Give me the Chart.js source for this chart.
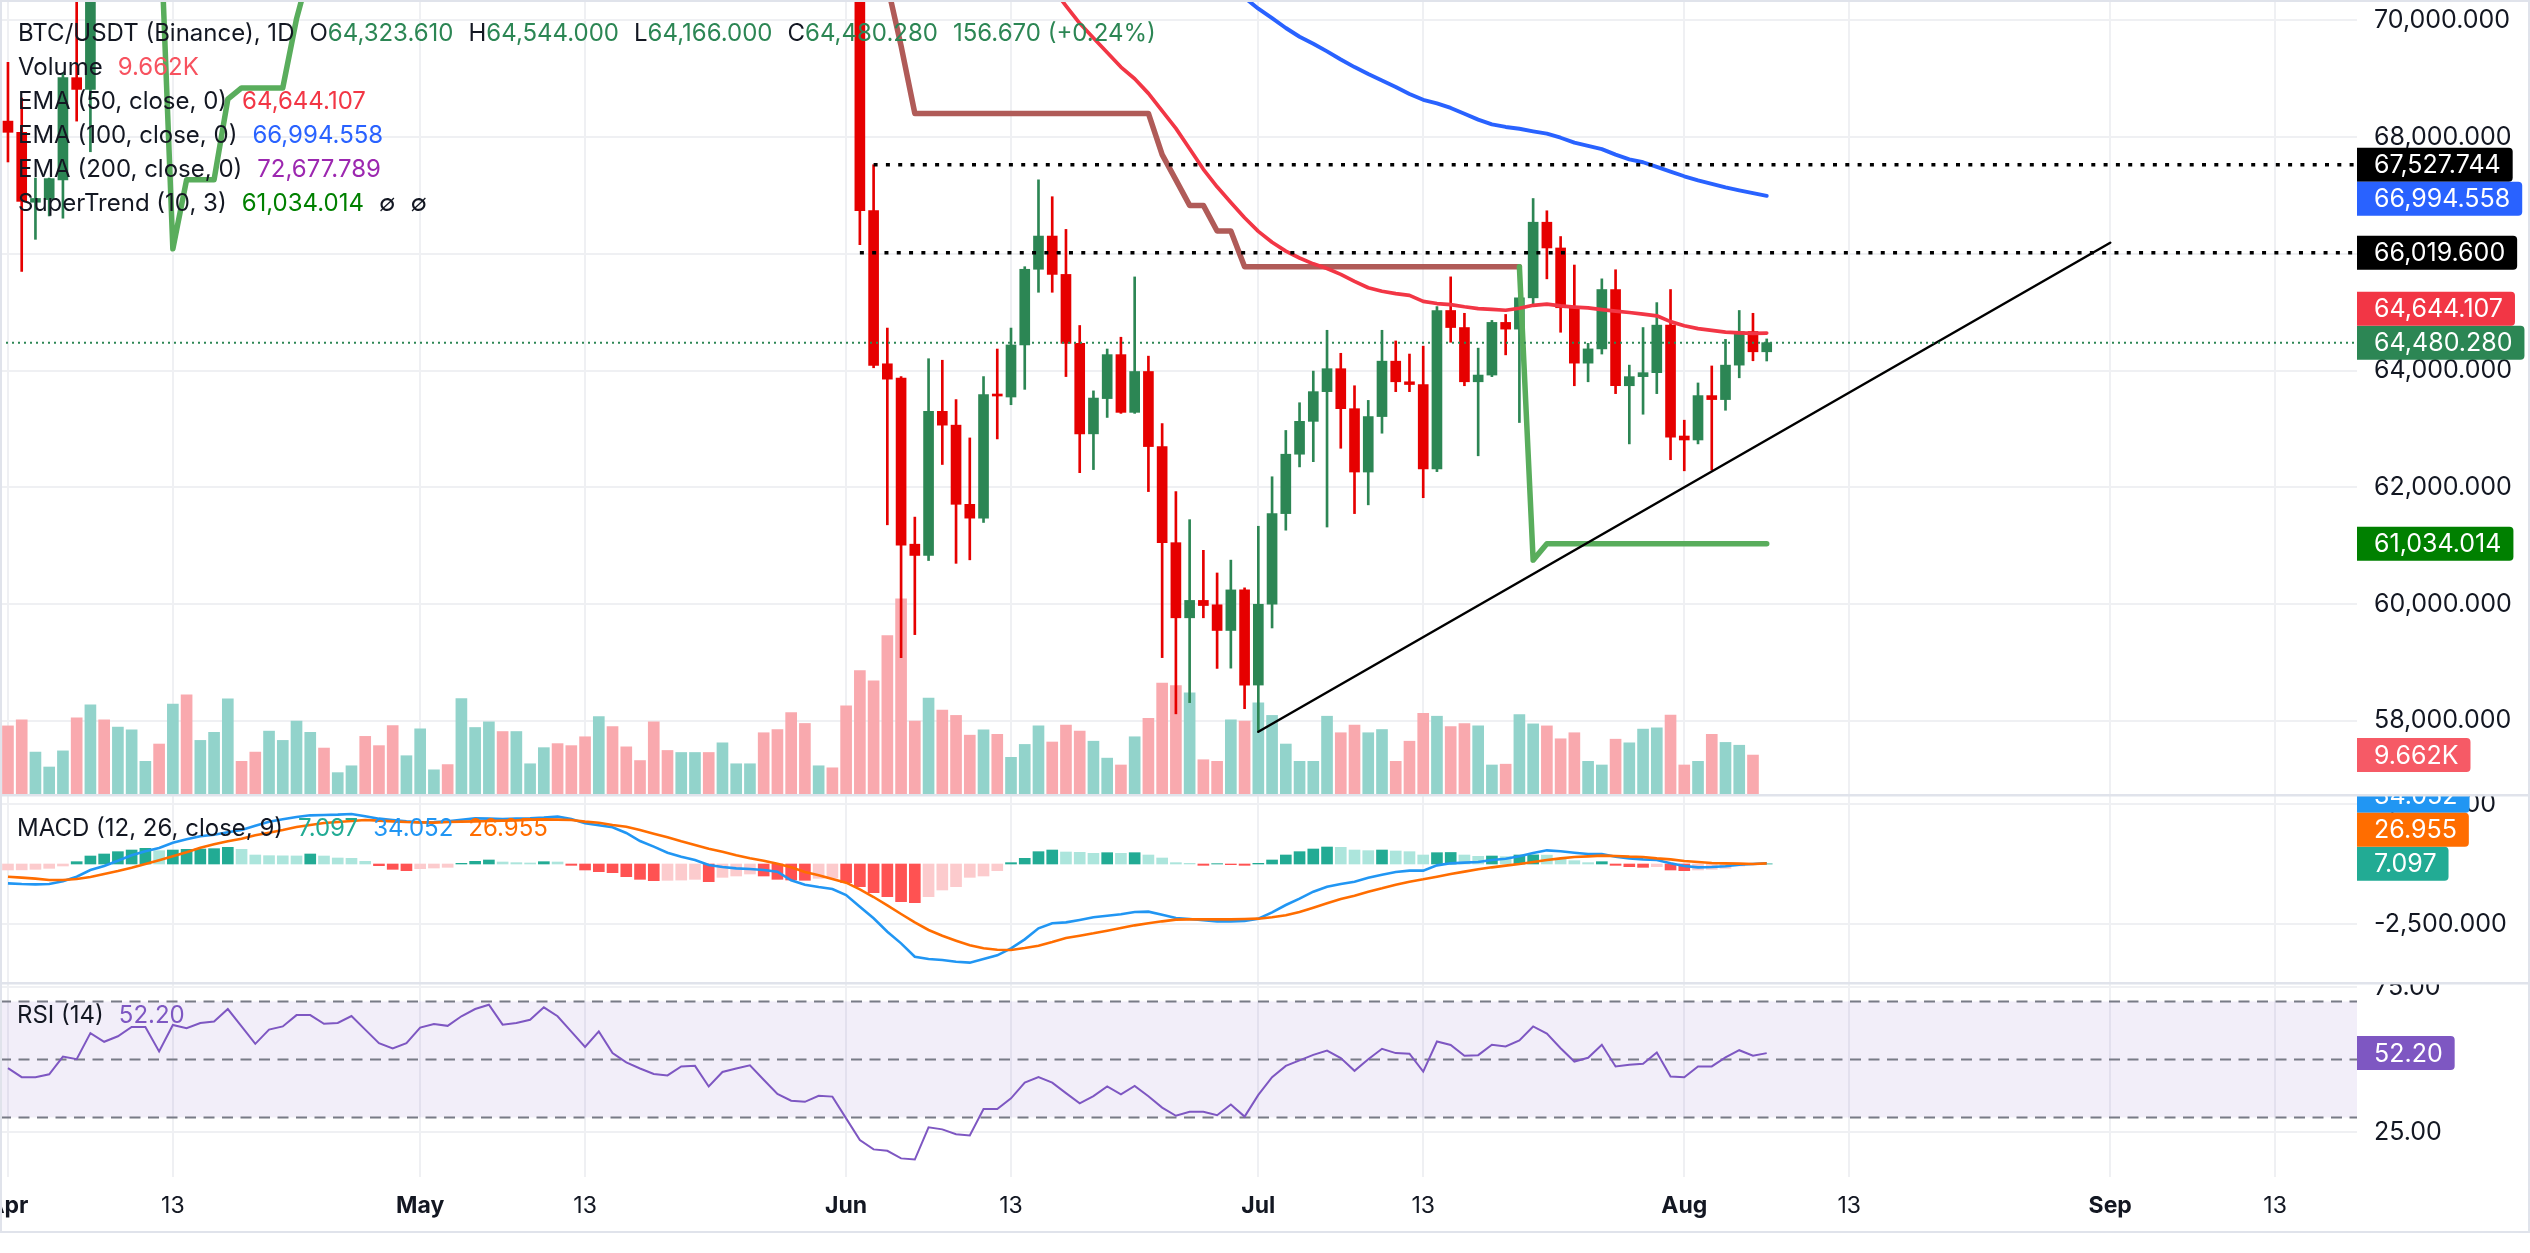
<!DOCTYPE html>
<html>
<head>
<meta charset="utf-8">
<title>BTC/USDT (Binance), 1D</title>
<script src="https://cdn.jsdelivr.net/npm/chart.js@4.4.1/dist/chart.umd.min.js"></script>
<style>
  html, body { margin:0; padding:0; background:#ffffff; }
  body { width:2530px; height:1253px; position:relative; overflow:hidden; font-family: Inter, "Noto Sans", sans-serif; color:#131722; }
  canvas { position:absolute; left:0; display:block; }
  .frame { position:absolute; left:0; top:0; width:2530px; height:1233px; box-sizing:border-box; border:2px solid #E0E3EB; pointer-events:none; z-index:5; }
  .legend { position:absolute; left:18px; font-size:24px; line-height:34px; white-space:nowrap; z-index:6; }
  .row { display:flex; align-items:center; height:34px; gap:15px; }
</style>
</head>
<body>
<canvas id="cMain" width="2530" height="794" style="top:0px"></canvas>
<canvas id="cMacd" width="2530" height="188" style="top:794px"></canvas>
<canvas id="cRsi" width="2530" height="271" style="top:982px"></canvas>
<div class="frame"></div>
<div class="legend" id="legMain" style="top:16px"></div>
<div class="legend" id="legMacd" style="top:811px; left:17px"></div>
<div class="legend" id="legRsi" style="top:998px; left:17px"></div>
<script>
// ===================== DATA =====================
// day index 0 = Apr 1, 128 = Aug 7
const xTickDays   = [0, 12, 30, 42, 61, 73, 91, 103, 122, 134, 153, 165];
const xTickLabels = ['Apr', '13', 'May', '13', 'Jun', '13', 'Jul', '13', 'Aug', '13', 'Sep', '13'];
const priceTicks  = [58000, 60000, 62000, 64000, 66000, 68000, 70000];
const macdTicks   = [2500, -2500];
const rsiTicks    = [75, 25];
const rsiLevels   = [70, 50, 30];

// candles visible in the price pane (others are above the top edge)
const candleDay = [0,1,2,3,4,5,6,62,63,64,65,66,67,68,69,70,71,72,73,74,75,76,77,78,79,80,81,82,83,84,85,86,87,88,89,90,91,92,93,94,95,96,97,98,99,100,101,102,103,104,105,106,107,108,109,110,111,112,113,114,115,116,117,118,119,120,121,122,123,124,125,126,127,128];
const candleOpen = [68275,68083,66885,66930,67269,69019,68818,71000,66744,64118,63873,61028,60835,63304,63067,61711,61474,63592,63549,64441,65737,66306,65649,64468,62918,63522,64275,63286,63986,62700,61054,59767,60065,59990,59550,60245,58615,59999,61552,62569,63132,63641,64034,63349,62264,63214,64163,63810,63763,62319,65031,64739,63810,63925,64827,64712,65248,66543,66102,65078,64129,64373,65390,63742,63898,63966,64780,62881,62813,63573,63505,64095,64671,64323.61];
const candleHigh = [69282,68669,67300,67300,69100,70700,71300,71300,67527.744,64730,63900,61492,64205,64179,63505,62848,63899,64371,64730,65781,67269,66980,66420,64774,63654,64371,64573,65606,64249,63094,61929,61448,60923,60535,60755,60280,61335,62183,62976,63451,63993,64692,64298,63742,63491,64692,64509,64285,64420,65098,65607,64983,64386,64861,64963,65797,66949,66739,66298,65810,64468,65573,65729,64095,64739,65166,65390,63152,63790,64081,64536,65031,64983,64544];
const candleLow = [67575,65700,66250,66650,66612,68275,67750,66160,64050,61360,59085,59479,60748,62393,60700,60760,61400,62831,63417,63680,65343,65343,63899,62253,62306,63199,63269,63269,61929,59085,58122,58314,59767,58900,58905,58210,57815,59593,61268,62352,62441,61322,62671,61552,61702,62929,63641,63641,61824,62271,64488,63742,62542,63898,64271,63112,65146,65573,64658,63742,63810,64285,63607,62746,63254,63607,62475,62285,62746,62298,63322,63878,64170,64166];
const candleClose = [68083,66900,66950,67290,69019,68818,70900,66740,64091,63855,61010,60835,63304,63067,61711,61474,63592,63566,64441,65737,66306,65649,64468,62918,63531,64275,63286,63986,62700,61054,59767,60065,59977,59550,60245,58615,59999,61552,62569,63132,63641,64034,63349,62264,63214,64163,63810,63763,62319,65031,64739,63810,63925,64827,64712,65248,66543,66102,65078,64129,64373,65390,63742,63898,63966,64780,62861,62813,63573,63505,64095,64671,64323.61,64480.28];

// volume (thousands BTC), one per day; last day has no bar drawn
const volume = [16.9,18.4,10.4,6.7,10.7,18.9,22.1,18.4,16.6,15.9,
  8.1,12.4,22.3,24.6,13.3,15.3,23.6,8.1,10.4,15.6,
  13.3,18.1,15.3,11.4,5.3,7.0,14.3,12.0,17.0,9.5,
  16.2,6.0,7.3,23.7,16.5,17.9,15.5,15.5,7.5,11.5,
  12.5,12.0,14.2,19.2,16.7,11.7,8.3,17.9,10.8,10.3,
  10.3,10.3,12.7,7.5,7.5,15.2,16.0,20.2,17.5,7.0,
  6.5,21.9,30.6,28.1,39.3,48.4,18.1,23.8,20.8,19.5,
  14.6,15.9,14.8,9.1,12.3,16.9,12.9,17.1,15.6,13.1,
  8.9,7.2,14.2,18.8,27.5,26.9,25.1,8.5,8.1,18.4,
  18.1,22.6,19.5,12.4,8.1,8.1,19.3,15.2,17.1,15.2,
  16.0,8.1,13.1,20.0,19.3,16.7,17.5,16.9,7.2,7.4,
  19.7,17.4,16.9,13.7,15.2,8.1,7.2,13.6,12.7,16.1,
  16.4,19.6,7.2,8.1,14.8,12.8,12.1,9.662,null];
const volumeUp = [0,0,1,1,1,0,1,0,1,1, 1,0,1,0,1,1,1,0,0,1, 1,1,1,0,1,1,0,0,0,1, 1,1,0,1,1,1,0,1,1,1,
  0,0,0,1,0,0,0,0,0,1, 1,0,1,1,1,0,0,0,0,1, 0,0,0,0,0,0,0,1,0,0, 0,1,0,1,1,1,0,0,0,1,
  1,0,1,0,0,0,1,0,0,1, 0,1,1,1,1,1,1,0,0,1, 1,0,0,0,1,0,0,1,1,0, 1,1,0,0,0,1,1,0,1,1,
  1,0,0,1,0,1,1,0,1];

const ema50Start = 74;
const ema50 = [71250,70900,70560,70250,69950,69700,69450,69200,69000,68750,68450,68150,67800,67450,67150,66880,66620,66387,66200,66048,65930,65830,65750,65650,65530,65420,65360,65320,65290,65187,65150,65132,65095,65064,65050,65035,65070,65120,65140,65110,65090,65075,65045,65020,64997,64970,64940,64840,64770,64720,64690,64660,64648,64640,64644.107];
const ema100Start = 88;
const ema100 = [70720,70560,70390,70201,70040,69870,69720,69600,69470,69330,69200,69080,68970,68860,68740,68640,68580,68500,68400,68300,68220,68175,68144,68100,68060,67990,67905,67850,67794,67700,67620,67570,67490,67410,67330,67260,67200,67140,67090,67040,66994.558];
const ema200Last = 72677.789;

const stUpStartA = 11;
const stUpA = [72200,66087,67269,67269,67269,68650,68844,68844,68844,68844,70026,70900,71300];
const stUpStartB = 110;
const stUpB = [65781,60755,61034.014,61034.014,61034.014,61034.014,61034.014,61034.014,61034.014,61034.014,61034.014,61034.014,61034.014,61034.014,61034.014,61034.014,61034.014,61034.014,61034.014];
const stDownStart = 63;
const stDown = [71700,70607,69565,68407,68407,68407,68407,68407,68407,68407,68407,68407,68407,68407,68407,68407,68407,68407,68407,68407,68407,
  67700,67269,66831,66831,66393,66393,65781,65781,65781,65781,65781,65781,65781,65781,65781,65781,65781,65781,65781,65781,65781,65781,65781,65781,65781,65781,65781];

const levelDays   = [63, 62];
const levelPrices = [67527.744, 66019.6];
const trendDays   = [91, 153];
const trendPrices = [57815, 66192];

const macdHist = [-250,-245,-222,-181,-83,97,333,417,514,583,653,556,583,611,625,639,694,611,375,347,340,335,417,333,250,236,111,-69,-222,-278,-194,-167,-139,28,111,167,83,56,42,97,83,-56,-250,-320,-361,-528,-639,-694,-680,-670,-639,-736,-556,-500,-417,-500,-639,-667,-680,-597,-590,-778,-944,-1194,-1361,-1569,-1611,-1361,-1083,-944,-556,-500,-278,56,236,514,583,500,486,444,472,444,472,375,250,56,28,-56,14,-28,-56,28,167,375,514,625,708,694,583,556,583,542,514,375,472,480,375,320,333,306,375,380,370,194,139,56,97,-56,-111,-139,-111,-250,-278,-250,-222,-181,-83,-30,7.097];
const macdLine = [-806,-833,-847,-833,-722,-528,-250,-83,139,361,528,667,889,1028,1153,1222,1320,1417,1597,1764,1861,1958,2028,2042,2056,2084,1986,1889,1833,1778,1736,1750,1778,1847,1903,1889,1875,1889,1903,1931,1972,1875,1695,1611,1528,1292,958,722,472,306,167,-42,-125,-181,-208,-250,-319,-681,-861,-958,-1042,-1292,-1778,-2264,-2820,-3306,-3861,-3959,-4000,-4070,-4111,-3959,-3806,-3514,-3139,-2681,-2472,-2431,-2333,-2222,-2153,-2097,-2000,-1986,-2111,-2250,-2292,-2347,-2389,-2389,-2375,-2278,-2014,-1708,-1444,-1153,-944,-833,-736,-569,-444,-333,-278,-278,-56,28,56,83,167,222,319,458,569,528,472,417,417,306,236,194,167,28,-83,-139,-125,-97,-28,0,34.052];
const macdSignal = [-528,-569,-611,-667,-667,-625,-542,-417,-292,-153,0,153,319,486,681,819,944,1056,1194,1306,1417,1542,1625,1708,1750,1792,1833,1806,1778,1750,1736,1722,1750,1764,1778,1792,1806,1819,1847,1861,1847,1833,1764,1722,1625,1556,1417,1264,1111,944,792,639,514,361,236,139,14,-139,-333,-472,-625,-778,-1056,-1375,-1722,-2083,-2431,-2750,-2986,-3194,-3389,-3514,-3570,-3584,-3500,-3403,-3250,-3083,-2986,-2889,-2778,-2667,-2556,-2472,-2389,-2319,-2306,-2306,-2306,-2306,-2292,-2278,-2222,-2139,-2000,-1819,-1639,-1458,-1319,-1153,-1014,-861,-736,-639,-528,-417,-319,-222,-139,-69,0,83,167,236,292,319,347,333,306,292,236,194,125,83,42,28,14,0,26.955];
const rsi = [47.0,43.9,43.9,44.9,51.0,50.1,59.1,56.1,58.0,61.2,61.2,52.8,61.9,60.8,62.6,63.1,67.4,61.4,55.4,60.3,61.4,65.3,65.3,62.3,62.6,65.0,60.3,55.6,53.8,55.6,61.0,62.2,61.6,64.9,67.4,68.9,62.0,62.6,63.7,68.0,64.9,59.6,54.3,59.7,52.2,49.0,46.9,45.0,44.5,47.6,47.8,40.7,45.7,46.9,48.0,43.0,38.1,35.8,35.4,37.5,37.2,29.7,22.2,19.0,18.5,15.9,15.5,26.6,25.9,24.2,23.8,32.9,32.9,36.6,42.0,43.9,42.0,38.4,34.9,37.4,40.7,38.0,40.9,37.3,33.4,30.6,32.0,32.0,30.8,34.5,30.3,37.8,43.9,47.8,49.7,51.6,53.1,50.5,46.1,50.1,53.7,52.2,52.0,45.8,56.2,55.0,51.3,51.5,55.1,54.5,56.6,61.4,58.9,53.9,49.3,50.6,55.1,47.6,48.2,48.5,52.4,44.1,43.9,47.6,47.6,50.7,53.2,51.3,52.2];

// ===================== VIEW =====================
const FONT = 'Inter';
const TXT = '#131722';
const GRID = '#EFF0F3';
const UP = '#2C8654', DN = '#E60000';
const AXIS_W = 173;
const X_MIN = -0.58, X_MAX = 170.96;
const PRICE_MIN = 56749, PRICE_MAX = 70349.4;
const VOL_MAX = 197;
const MACD_MIN = -4916.7, MACD_MAX = 2916.7;
const RSI_MIN = 9.48, RSI_MAX = 76.72;

Chart.defaults.font.family = FONT;
Chart.defaults.animation = false;

const fmt = (v, d) => v.toLocaleString('en-US', {minimumFractionDigits: d, maximumFractionDigits: d});
const series = (start, arr) => arr.map((v, k) => ({x: start + k, y: v}));
const isMonth = s => isNaN(Number(s));

function xScale(showLabels) {
  return {
    type: 'linear', min: X_MIN, max: X_MAX, offset: false,
    afterBuildTicks: s => { s.ticks = xTickDays.map(v => ({value: v})); },
    afterFit: s => { s.paddingLeft = 0; s.paddingRight = 0; if (showLabels) s.height = 76; },
    ticks: {
      display: showLabels, autoSkip: false, maxRotation: 0, padding: 15, color: TXT,
      font: ctx => ({family: FONT, size: 23, weight: isMonth(xTickLabels[ctx.index]) ? '700' : '400'}),
      callback: (v, i) => xTickLabels[i]
    },
    grid: {color: GRID, lineWidth: 2, drawTicks: false, offset: false},
    border: {display: false}
  };
}
function yScale(min, max, ticks, fmtFn) {
  return {
    type: 'linear', position: 'right', min, max, beginAtZero: false,
    afterBuildTicks: s => { s.ticks = ticks.map(v => ({value: v})); },
    afterFit: s => { s.width = AXIS_W; s.paddingTop = 0; s.paddingBottom = 0; },
    ticks: {padding: 17, color: TXT, font: {family: FONT, size: 25}, callback: fmtFn},
    grid: {color: GRID, lineWidth: 2, drawTicks: false},
    border: {display: false}
  };
}

function boxPath(ctx, x, y, w, h, r) {
  ctx.beginPath();
  ctx.moveTo(x, y);
  ctx.lineTo(x + w - r, y);
  ctx.arcTo(x + w, y, x + w, y + r, r);
  ctx.lineTo(x + w, y + h - r);
  ctx.arcTo(x + w, y + h, x + w - r, y + h, r);
  ctx.lineTo(x, y + h);
  ctx.closePath();
}
function drawAxisBoxes(chart, items, anchorIdx) {
  const ctx = chart.ctx, H = 34, left = chart.chartArea.right;
  const anchor = items[anchorIdx];
  const above = items.filter((it, i) => i !== anchorIdx && it.y <= anchor.y).sort((a, b) => a.y - b.y);
  const below = items.filter((it, i) => i !== anchorIdx && it.y > anchor.y).sort((a, b) => a.y - b.y);
  for (let i = 1; i < above.length; i++) above[i].y = Math.max(above[i].y, above[i - 1].y + H);
  let lim = anchor.y;
  for (let i = above.length - 1; i >= 0; i--) { above[i].y = Math.min(above[i].y, lim - H); lim = above[i].y; }
  lim = anchor.y;
  for (const it of below) { it.y = Math.max(it.y, lim + H); lim = it.y; }
  ctx.save();
  ctx.font = '25px ' + FONT;
  ctx.textAlign = 'left';
  ctx.textBaseline = 'middle';
  for (const it of items) {
    const w = 17 + ctx.measureText(it.text).width + 12;
    ctx.fillStyle = it.bg;
    boxPath(ctx, left, it.y - H / 2, w, H, 4);
    ctx.fill();
    ctx.fillStyle = '#ffffff';
    ctx.fillText(it.text, left + 17, it.y + 1);
  }
  ctx.restore();
}
function separator(chart) {
  const ctx = chart.ctx;
  ctx.save();
  ctx.fillStyle = '#E0E3EB';
  ctx.fillRect(0, 0, chart.width, 2.5);
  ctx.restore();
}

const lastVol = volume.filter(v => v !== null).slice(-1)[0];
const lastClose = candleClose[candleClose.length - 1];

// ---------- price pane ----------
const candleColors = candleOpen.map((o, k) => candleClose[k] >= o ? UP : DN);
const lineDs = (data, color, width, order, extra) => Object.assign({
  type: 'line', data, borderColor: color, borderWidth: width, pointRadius: 0, tension: 0,
  fill: false, order, borderCapStyle: 'round', borderJoinStyle: 'round', yAxisID: 'y'
}, extra || {});

const priceBoxes = {
  id: 'priceBoxes',
  afterDraw(chart) {
    const y = chart.scales.y, yv = chart.scales.yv;
    const items = [
      {y: y.getPixelForValue(lastClose), text: fmt(lastClose, 3), bg: UP},
      {y: y.getPixelForValue(levelPrices[0]), text: fmt(levelPrices[0], 3), bg: '#000000'},
      {y: y.getPixelForValue(ema100[ema100.length - 1]), text: fmt(ema100[ema100.length - 1], 3), bg: '#2962FF'},
      {y: y.getPixelForValue(levelPrices[1]), text: fmt(levelPrices[1], 3), bg: '#000000'},
      {y: y.getPixelForValue(ema50[ema50.length - 1]), text: fmt(ema50[ema50.length - 1], 3), bg: '#F23645'},
      {y: y.getPixelForValue(stUpB[stUpB.length - 1]), text: fmt(stUpB[stUpB.length - 1], 3), bg: '#008000'},
      {y: yv.getPixelForValue(lastVol), text: lastVol.toFixed(3) + 'K', bg: '#F65A66'}
    ];
    drawAxisBoxes(chart, items, 0);
  }
};

new Chart(document.getElementById('cMain'), {
  type: 'bar',
  data: {
    datasets: [
      lineDs([{x: X_MIN, y: lastClose}, {x: X_MAX, y: lastClose}], UP, 2, 1, {borderDash: [2, 4], borderCapStyle: 'butt'}),
      lineDs([{x: levelDays[0], y: levelPrices[0]}, {x: X_MAX, y: levelPrices[0]}], '#000000', 3.5, 2, {borderDash: [4, 8.3], borderCapStyle: 'butt'}),
      lineDs([{x: levelDays[1], y: levelPrices[1]}, {x: X_MAX, y: levelPrices[1]}], '#000000', 3.5, 2, {borderDash: [4, 8.3], borderCapStyle: 'butt'}),
      lineDs(trendDays.map((d, k) => ({x: d, y: trendPrices[k]})), '#000000', 2.5, 3),
      lineDs(series(ema50Start, ema50), '#F23645', 3.7, 4),
      lineDs(series(ema100Start, ema100), '#2962FF', 3.9, 5),
      lineDs(series(stUpStartA, stUpA), '#59AD5C', 5.5, 6),
      lineDs(series(stUpStartB, stUpB), '#59AD5C', 5.5, 6),
      lineDs(series(stDownStart, stDown), '#B05B58', 5.5, 6),
      {type: 'bar', data: candleDay.map((d, k) => ({x: d, y: [candleOpen[k], candleClose[k]]})),
       backgroundColor: candleColors, barThickness: 10, grouped: false, minBarLength: 2, borderWidth: 0, order: 7, yAxisID: 'y'},
      {type: 'bar', data: candleDay.map((d, k) => ({x: d, y: [candleLow[k], candleHigh[k]]})),
       backgroundColor: candleColors, barThickness: 2, grouped: false, borderWidth: 0, order: 8, yAxisID: 'y'},
      {type: 'bar', data: volume.map((v, d) => ({x: d, y: v})),
       backgroundColor: volumeUp.map(u => u ? '#92D3CB' : '#F9A9AE'), barThickness: 11, grouped: false, borderWidth: 0, order: 9, yAxisID: 'yv'}
    ]
  },
  options: {
    responsive: false, devicePixelRatio: 1, animation: false, events: [],
    layout: {padding: 0},
    plugins: {legend: {display: false}, tooltip: {enabled: false}},
    scales: {
      x: xScale(false),
      y: yScale(PRICE_MIN, PRICE_MAX, priceTicks, v => fmt(v, 3)),
      yv: {type: 'linear', display: false, position: 'left', min: 0, max: VOL_MAX, beginAtZero: true}
    }
  },
  plugins: [priceBoxes]
});

// ---------- MACD pane ----------
const histColors = macdHist.map((v, i) => {
  const p = i > 0 ? macdHist[i - 1] : v;
  if (v >= 0) return v >= p ? '#22AB94' : '#ACE5DC';
  return v < p ? '#FF5252' : '#FCCBCD';
});
const macdBoxes = {
  id: 'macdBoxes',
  afterDraw(chart) {
    const y = chart.scales.y, n = macdHist.length - 1;
    drawAxisBoxes(chart, [
      {y: y.getPixelForValue(macdHist[n]), text: fmt(macdHist[n], 3), bg: '#22AB94'},
      {y: y.getPixelForValue(macdLine[n]), text: fmt(macdLine[n], 3), bg: '#2196F3'},
      {y: y.getPixelForValue(macdSignal[n]), text: fmt(macdSignal[n], 3), bg: '#FF6D00'}
    ], 0);
    separator(chart);
  }
};
new Chart(document.getElementById('cMacd'), {
  type: 'bar',
  data: {
    datasets: [
      {type: 'line', data: series(0, macdSignal), borderColor: '#FF6D00', borderWidth: 2.6, pointRadius: 0, tension: 0, fill: false, order: 1},
      {type: 'line', data: series(0, macdLine), borderColor: '#2196F3', borderWidth: 2.6, pointRadius: 0, tension: 0, fill: false, order: 2},
      {type: 'bar', data: series(0, macdHist), backgroundColor: histColors, barThickness: 11, grouped: false, borderWidth: 0, order: 3}
    ]
  },
  options: {
    responsive: false, devicePixelRatio: 1, animation: false, events: [],
    layout: {padding: 0},
    plugins: {legend: {display: false}, tooltip: {enabled: false}},
    scales: {x: xScale(false), y: yScale(MACD_MIN, MACD_MAX, macdTicks, v => fmt(v, 3))}
  },
  plugins: [macdBoxes]
});

// ---------- RSI pane ----------
const rsiDecor = {
  id: 'rsiDecor',
  beforeDatasetsDraw(chart) {
    const {ctx, chartArea: a} = chart, y = chart.scales.y;
    const yTop = y.getPixelForValue(rsiLevels[0]), yBot = y.getPixelForValue(rsiLevels[2]);
    ctx.save();
    ctx.fillStyle = 'rgba(126,87,194,0.1)';
    ctx.fillRect(a.left, yTop, a.right - a.left, yBot - yTop);
    ctx.strokeStyle = '#787B86';
    ctx.lineWidth = 2;
    ctx.setLineDash([11, 7.5]);
    for (const lv of rsiLevels) {
      const yy = y.getPixelForValue(lv);
      ctx.beginPath(); ctx.moveTo(a.left, yy); ctx.lineTo(a.right, yy); ctx.stroke();
    }
    ctx.restore();
  },
  afterDraw(chart) {
    const y = chart.scales.y, n = rsi.length - 1;
    drawAxisBoxes(chart, [{y: y.getPixelForValue(rsi[n]), text: rsi[n].toFixed(2), bg: '#7E57C2'}], 0);
    separator(chart);
  }
};
new Chart(document.getElementById('cRsi'), {
  type: 'line',
  data: {datasets: [{data: series(0, rsi), borderColor: '#7E57C2', borderWidth: 2, pointRadius: 0, tension: 0, fill: false}]},
  options: {
    responsive: false, devicePixelRatio: 1, animation: false, events: [],
    layout: {padding: 0},
    plugins: {legend: {display: false}, tooltip: {enabled: false}},
    scales: {x: xScale(true), y: yScale(RSI_MIN, RSI_MAX, rsiTicks, v => v.toFixed(2))}
  },
  plugins: [rsiDecor]
});

// ---------- legends (text) ----------
const li = candleDay.length - 1;
const o = candleOpen[li], h = candleHigh[li], l = candleLow[li], c = candleClose[li], pc = candleClose[li - 1];
const chg = c - pc, pct = chg / pc * 100;
const sp = (t, col) => `<span style="color:${col}">${t}</span>`;
document.getElementById('legMain').innerHTML =
  `<div class="row"><span>BTC/USDT (Binance), 1D</span><span>O${sp(fmt(o, 3), UP)}</span><span>H${sp(fmt(h, 3), UP)}</span><span>L${sp(fmt(l, 3), UP)}</span><span>C${sp(fmt(c, 3), UP)}</span>${sp(fmt(chg, 3) + ' (' + (chg >= 0 ? '+' : '') + pct.toFixed(2) + '%)', UP)}</div>` +
  `<div class="row"><span>Volume</span>${sp(lastVol.toFixed(3) + 'K', '#F7525F')}</div>` +
  `<div class="row"><span>EMA (50, close, 0)</span>${sp(fmt(ema50[ema50.length - 1], 3), '#F23645')}</div>` +
  `<div class="row"><span>EMA (100, close, 0)</span>${sp(fmt(ema100[ema100.length - 1], 3), '#2962FF')}</div>` +
  `<div class="row"><span>EMA (200, close, 0)</span>${sp(fmt(ema200Last, 3), '#9C27B0')}</div>` +
  `<div class="row"><span>SuperTrend (10, 3)</span>${sp(fmt(stUpB[stUpB.length - 1], 3), '#008000')}<span>∅</span><span>∅</span></div>`;
const nm = macdHist.length - 1;
document.getElementById('legMacd').innerHTML =
  `<div class="row"><span>MACD (12, 26, close, 9)</span>${sp(fmt(macdHist[nm], 3), '#22AB94')}${sp(fmt(macdLine[nm], 3), '#2196F3')}${sp(fmt(macdSignal[nm], 3), '#FF6D00')}</div>`;
document.getElementById('legRsi').innerHTML =
  `<div class="row"><span>RSI (14)</span>${sp(rsi[rsi.length - 1].toFixed(2), '#7E57C2')}</div>`;
</script>
</body>
</html>
